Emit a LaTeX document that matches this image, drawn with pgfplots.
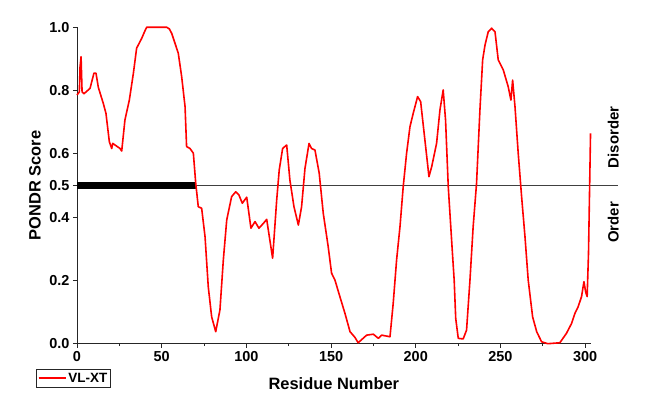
\documentclass[border=0pt]{standalone}
\usepackage{pgfplots}
\pgfplotsset{compat=1.18}
\usepackage{fontspec}
\setmainfont{Liberation Sans}
\begin{document}
\begin{tikzpicture}
\useasboundingbox (-77bp,-53.3bp) rectangle (568bp,343.7bp);
\begin{axis}[
  scale only axis, width=513.7bp, height=316.4bp,
  xmin=0, xmax=303.3, ymin=0, ymax=1,
  axis x line*=bottom, axis y line*=left,
  axis line style={black!85, line width=0.9bp},
  tick align=outside,
  major tick length=4bp, minor tick length=2.5bp,
  tick style={black!85, line width=0.9bp},
  xtick={0,50,...,300}, minor xtick={25,75,...,275},
  ytick={0,0.2,0.4,0.5,0.6,0.8,1.0},
  yticklabel={\pgfmathprintnumber[fixed,fixed zerofill,precision=1]{\tick}},
  /pgf/number format/assume math mode=true,
  tick label style={font=\fontsize{14.5}{16}\selectfont\bfseries},
  xlabel={Residue Number}, ylabel={PONDR Score},
  label style={font=\fontsize{16.5}{18}\selectfont\bfseries},
  x label style={at={(axis description cs:0.5,-0.125)}, anchor=center},
  y label style={at={(axis description cs:-0.0818,0.5)}, anchor=center},
  legend style={at={(axis description cs:-0.0798,-0.08)}, anchor=north west,
    draw=black!85, line width=0.8bp, fill=white, inner xsep=1.5bp, inner ysep=1.5bp,
    font=\fontsize{13.5}{15}\selectfont\bfseries, cells={anchor=west}},
  legend image code/.code={\draw[red, line width=1.6bp] (0bp,0bp) -- (20bp,0bp);
    \path (0bp,0bp) -- (27bp,0bp);},
  clip=false,
]
\addplot[black!75, line width=0.8bp, forget plot] coordinates {(0,0.5) (319.4,0.5)};
\addplot[black, line width=7.5bp, line cap=butt, forget plot] coordinates {(0,0.5) (70.2,0.5)};
\addplot[red, line width=1.6bp, line join=round] coordinates {
(0,0.786) (1.4,0.796) (1.8,0.875) (2.4,0.907) (3.0,0.796) (4.1,0.79) (7.7,0.807)
(10,0.855) (11.2,0.855) (12.6,0.81) (15.5,0.76) (17.1,0.728) (19.1,0.638) (20.5,0.617)
(21.1,0.633) (25.4,0.617) (26.4,0.609) (28.3,0.707) (30.9,0.77) (33.3,0.855) (35.2,0.934)
(38.2,0.965) (39.8,0.985) (41.1,1.0) (53,1.0) (54.5,0.995) (55.9,0.981) (57.9,0.949) (59.8,0.918) (61.8,0.844)
(63.8,0.749) (64.7,0.623) (66.7,0.617) (68.7,0.602) (70.1,0.507) (71.6,0.433) (73.6,0.428)
(75.6,0.338) (77.5,0.18) (79.5,0.085) (81.9,0.038) (84.4,0.107) (86.4,0.265) (88.4,0.391)
(91.3,0.465) (93.7,0.48) (95.6,0.47) (97.6,0.444) (100.2,0.463) (102.7,0.365) (105.1,0.386)
(107.4,0.365) (110,0.38) (112,0.393) (115.5,0.27) (117.9,0.454) (119.4,0.549) (121.4,0.617)
(123.8,0.628) (125.7,0.517) (128.1,0.433) (130.7,0.375) (132.6,0.433) (134.6,0.554)
(137,0.633) (138.5,0.617) (140.5,0.612) (143,0.539) (145.4,0.412) (148.3,0.307)
(150.3,0.223) (152.3,0.201) (155.2,0.149) (158.2,0.096) (161.2,0.038) (164.1,0.02)
(166,0.003) (171,0.027) (175,0.03) (177.9,0.017) (179.9,0.027) (184.8,0.022)
(186.7,0.128) (188.7,0.265) (190.7,0.37) (192.6,0.496) (194.6,0.602) (196.6,0.686)
(198.5,0.728) (201.1,0.781) (202.9,0.765) (205.4,0.644) (207.8,0.528) (209.4,0.559)
(212.3,0.633) (214.3,0.739) (216.2,0.802) (217.6,0.707) (219.2,0.496) (221.5,0.30)
(222.7,0.2) (223.6,0.08) (225.1,0.017) (228,0.015) (230,0.043) (232,0.2) (233.9,0.37)
(235.9,0.507) (237.9,0.739) (239.5,0.897) (240.9,0.944) (242.8,0.986) (244.8,0.997)
(246.8,0.986) (248.7,0.897) (251.7,0.865) (254.6,0.812) (256.2,0.77) (257.2,0.833)
(258.6,0.749) (260.5,0.602) (262.5,0.465) (264.5,0.338) (266.4,0.201) (269,0.085)
(271.4,0.038) (274.3,0.006) (278,0.0) (285.1,0.003) (289,0.033) (292,0.064) (294,0.096)
(295.9,0.117) (297.9,0.149) (299.3,0.196) (300.3,0.164) (301.2,0.149) (302,0.286)
(302.8,0.539) (303.2,0.665)
};
\addlegendentry{VL-XT}
\node[rotate=90, font=\fontsize{15}{17}\selectfont\bfseries] at (axis cs:316.6,0.652) {Disorder};
\node[rotate=90, font=\fontsize{15}{17}\selectfont\bfseries] at (axis cs:316.6,0.383) {Order};
\end{axis}
\end{tikzpicture}
\end{document}
